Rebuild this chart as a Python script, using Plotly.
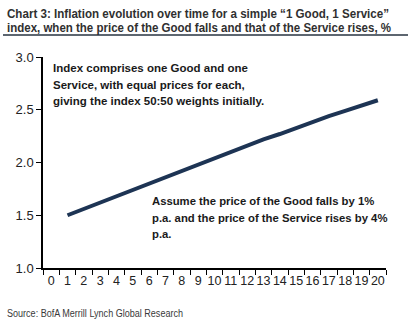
import plotly.graph_objects as go

# Years since start and annual index inflation (%); year 0 has no inflation reading
years = [str(i) for i in range(21)]
inflation = [None, 1.50, 1.56, 1.62, 1.68, 1.75, 1.81, 1.87, 1.93, 1.99, 2.05,
             2.10, 2.16, 2.22, 2.27, 2.33, 2.38, 2.44, 2.49, 2.54, 2.59]
y_ticks = [1.0, 1.5, 2.0, 2.5, 3.0]

title_lines = [
    "Chart 3: Inflation evolution over time for a simple \u201c1 Good, 1 Service\u201d",
    "index, when the price of the Good falls and that of the Service rises, %",
]
note_top = ["Index comprises one Good and one",
            "Service, with equal prices for each,",
            "giving the index 50:50 weights initially."]
note_bottom = ["Assume the price of the Good falls by 1%",
               "p.a. and the price of the Service rises by 4%",
               "p.a."]
source = "Source: BofA Merrill Lynch Global Research"

W, H = 416, 322
L, R, T, B = 43, 30, 57, 54

fig = go.Figure()
fig.add_trace(go.Scatter(
    x=years, y=inflation, mode="lines",
    line=dict(color="#1d3454", width=4),
    connectgaps=False, showlegend=False, hoverinfo="skip",
))

def px_x(px):
    return (px - L) / (W - L - R)

def px_y(py):
    return 1 - (py - T) / (H - T - B)

SANS = "Liberation Sans, Arial, sans-serif"

annotations = []
for i, line in enumerate(title_lines):
    annotations.append(dict(
        text=f"<b>{line}</b>", x=px_x(5), y=px_y(13.5 + i * 14),
        xref="paper", yref="paper", xanchor="left", yanchor="middle", align="left",
        showarrow=False, font=dict(family=SANS, size=13, color="#303030"),
    ))
for i, line in enumerate(note_top):
    annotations.append(dict(
        text=f"<b>{line}</b>", x=px_x(51), y=px_y(68 + i * 16.5),
        xref="paper", yref="paper", xanchor="left", yanchor="middle", align="left",
        showarrow=False, font=dict(family=SANS, size=11.5, color="#1a1a1a"),
    ))
for i, line in enumerate(note_bottom):
    annotations.append(dict(
        text=f"<b>{line}</b>", x=px_x(150), y=px_y(201 + i * 16.7),
        xref="paper", yref="paper", xanchor="left", yanchor="middle", align="left",
        showarrow=False, font=dict(family=SANS, size=11.3, color="#1a1a1a"),
    ))
annotations.append(dict(
    text=source, x=px_x(5), y=px_y(313),
    xref="paper", yref="paper", xanchor="left", yanchor="middle", align="left",
    showarrow=False, font=dict(family=SANS, size=10, color="#3a3a3a"),
))

fig.update_layout(
    width=W, height=H,
    margin=dict(l=L, r=R, t=T, b=B),
    paper_bgcolor="white", plot_bgcolor="white",
    annotations=annotations,
    shapes=[dict(type="line", xref="paper", yref="paper",
                 x0=px_x(3), x1=px_x(408), y0=px_y(35), y1=px_y(35),
                 line=dict(color="#5d6670", width=2))],
    xaxis=dict(
        type="category", categoryorder="array", categoryarray=years,
        tickson="boundaries", ticks="outside", ticklen=5, tickcolor="black",
        showline=True, linecolor="black", linewidth=1.5, showgrid=False,
        zeroline=False, range=[-0.5, 20.5], tickangle=0,
        tickfont=dict(family=SANS, size=12.5, color="#222222"),
    ),
    yaxis=dict(
        range=[1.0, 3.0], tickvals=y_ticks, ticktext=[f"{v:.1f}" for v in y_ticks],
        ticks="outside", ticklen=5, tickcolor="black",
        showline=True, linecolor="black", linewidth=1.5, showgrid=False,
        zeroline=False,
        tickfont=dict(family=SANS, size=13, color="#222222"),
    ),
)

# Condense the title and source lines to a fixed width (narrow typeface look)
squeeze_js = """
var gd = document.getElementById('{plot_id}');
var widths = [['Chart 3', 382], ['index, when', 384], ['Source:', 176]];
function squeeze() {
  gd.querySelectorAll('text.annotation-text').forEach(function (t) {
    var s = t.textContent;
    widths.forEach(function (p) {
      if (s.indexOf(p[0]) === 0) {
        t.setAttribute('textLength', p[1]);
        t.setAttribute('lengthAdjust', 'spacingAndGlyphs');
        var bg = t.parentNode.querySelector('rect.bg');
        if (bg) { bg.setAttribute('width', p[1] + 2); }
      }
    });
  });
}
squeeze();
gd.on('plotly_afterplot', squeeze);
"""

fig.write_html("out.html", post_script=squeeze_js)
